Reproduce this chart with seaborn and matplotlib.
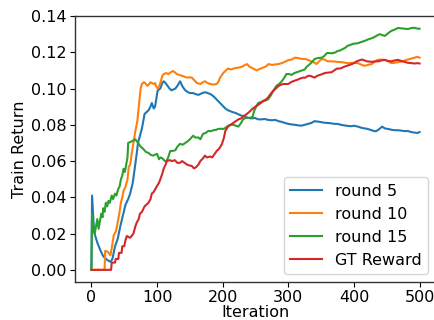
#!/usr/bin/env python3
import numpy as np
import pandas as pd
import seaborn as sns
import matplotlib.pyplot as plt

# values (iteration, train return)
blue_iter = [0, 1, 4, 9, 14, 18, 24, 29, 32, 36, 40, 44, 48, 52, 56, 59, 63, 66, 69, 71,
             74, 77, 81, 84, 87, 90, 92, 95, 97, 101, 105, 108, 110, 113, 115, 119, 122,
             125, 128, 132, 135, 139, 143, 147, 150, 155, 158, 163, 166, 169, 173, 177,
             181, 185, 188, 192, 196, 200, 204, 208, 211, 215, 219, 224, 229, 234, 239,
             244, 249, 254, 259, 264, 269, 275, 280, 285, 290, 295, 300, 305, 310, 315,
             320, 325, 330, 335, 340, 344, 348, 354, 360, 366, 370, 375, 380, 385, 390,
             396, 400, 406, 410, 416, 420, 427, 431, 434, 438, 443, 447, 452, 458, 462,
             467, 472, 477, 482, 487, 492, 497, 500]
blue_ret = [0.0, 0.041, 0.021, 0.015, 0.0105, 0.0075, 0.0055, 0.0044, 0.006, 0.013, 0.017,
            0.024, 0.030, 0.036, 0.039, 0.042, 0.048, 0.056, 0.064, 0.070, 0.074, 0.078,
            0.086, 0.087, 0.088, 0.090, 0.092, 0.089, 0.090, 0.099, 0.100, 0.103, 0.104,
            0.103, 0.102, 0.100, 0.099, 0.0995, 0.100, 0.102, 0.104, 0.101, 0.099, 0.098,
            0.0975, 0.0975, 0.097, 0.0965, 0.097, 0.0975, 0.098, 0.0975, 0.097, 0.096,
            0.095, 0.0935, 0.092, 0.0905, 0.089, 0.088, 0.0876, 0.087, 0.0866, 0.0858,
            0.085, 0.0845, 0.0838, 0.0835, 0.0838, 0.083, 0.083, 0.0832, 0.0827, 0.0825,
            0.0827, 0.082, 0.0816, 0.081, 0.0805, 0.0802, 0.080, 0.0797, 0.0795, 0.080,
            0.0805, 0.081, 0.082, 0.0818, 0.0816, 0.0812, 0.081, 0.0808, 0.0805, 0.0805,
            0.080, 0.0797, 0.0794, 0.0792, 0.0795, 0.079, 0.0785, 0.078, 0.0778, 0.077,
            0.0765, 0.0765, 0.0775, 0.079, 0.078, 0.0777, 0.0772, 0.077, 0.077, 0.0768,
            0.0765, 0.0766, 0.076, 0.0757, 0.0755, 0.076]

orange_iter = [0, 20, 21, 25, 29, 31, 34, 37, 39, 42, 45, 47, 49, 52, 55, 57, 59, 61, 64,
               67, 70, 73, 75, 77, 80, 82, 85, 87, 90, 92, 95, 97, 99, 101, 103, 105, 108,
               110, 114, 117, 121, 124, 127, 130, 134, 138, 142, 146, 150, 153, 157, 161,
               166, 170, 173, 177, 181, 186, 191, 194, 196, 201, 205, 208, 213, 219, 224,
               229, 233, 237, 241, 245, 249, 252, 256, 260, 265, 270, 275, 280, 285, 290,
               295, 300, 305, 310, 315, 321, 326, 330, 335, 340, 343, 347, 351, 355, 360,
               367, 375, 382, 390, 398, 406, 411, 416, 421, 427, 432, 436, 442, 447, 452,
               457, 462, 467, 473, 478, 482, 487, 492, 497, 500]
orange_ret = [0.0, 0.0, 0.0105, 0.010, 0.008, 0.012, 0.019, 0.021, 0.024, 0.030, 0.037,
              0.040, 0.0435, 0.046, 0.050, 0.057, 0.058, 0.063, 0.070, 0.0766, 0.082,
              0.093, 0.100, 0.1025, 0.1035, 0.103, 0.1015, 0.102, 0.1035, 0.103, 0.1025,
              0.103, 0.101, 0.100, 0.101, 0.103, 0.107, 0.108, 0.1085, 0.108, 0.109,
              0.1097, 0.109, 0.108, 0.1075, 0.107, 0.1065, 0.106, 0.1062, 0.106, 0.1045,
              0.103, 0.1025, 0.1035, 0.104, 0.103, 0.1025, 0.1022, 0.1025, 0.104, 0.106,
              0.1086, 0.110, 0.111, 0.1105, 0.1113, 0.1115, 0.112, 0.1128, 0.1135, 0.112,
              0.1113, 0.1105, 0.110, 0.1108, 0.1113, 0.112, 0.1135, 0.113, 0.1133, 0.1135,
              0.114, 0.1148, 0.1157, 0.116, 0.117, 0.1168, 0.1163, 0.1163, 0.1158, 0.115,
              0.1142, 0.1135, 0.115, 0.1163, 0.116, 0.115, 0.115, 0.1147, 0.1145, 0.114,
              0.1142, 0.114, 0.1132, 0.1125, 0.113, 0.1135, 0.1148, 0.1158, 0.116, 0.1158,
              0.115, 0.114, 0.1142, 0.1145, 0.115, 0.1155, 0.116, 0.1165, 0.117, 0.1175,
              0.117]

green_iter = [0, 1, 3, 5, 7, 9, 11, 13, 15, 17, 18, 20, 22, 24, 26, 28, 31, 33, 36, 38,
              41, 43, 45, 47, 49, 51, 53, 55, 56, 59, 62, 65, 67, 70, 72, 75, 79, 83, 87,
              90, 94, 97, 100, 103, 105, 108, 112, 114, 117, 120, 124, 128, 131, 135, 139,
              143, 147, 150, 155, 158, 163, 166, 170, 174, 178, 182, 186, 190, 193, 197,
              201, 205, 208, 212, 216, 220, 224, 228, 231, 235, 239, 243, 245, 248, 251,
              254, 258, 262, 266, 269, 273, 277, 282, 286, 290, 294, 297, 301, 305, 309,
              313, 317, 321, 325, 328, 333, 337, 340, 345, 351, 355, 359, 364, 368, 372,
              375, 379, 383, 387, 390, 394, 398, 402, 406, 410, 414, 418, 421, 425, 429,
              434, 439, 443, 447, 452, 457, 462, 467, 472, 477, 482, 488, 492, 497, 500]
green_ret = [0.0, 0.031, 0.024, 0.020, 0.024, 0.028, 0.0226, 0.027, 0.031, 0.029, 0.034,
             0.032, 0.037, 0.035, 0.038, 0.037, 0.041, 0.039, 0.042, 0.041, 0.0447, 0.046,
             0.050, 0.052, 0.0557, 0.054, 0.058, 0.062, 0.070, 0.0705, 0.071, 0.0715,
             0.072, 0.0705, 0.0695, 0.068, 0.0667, 0.065, 0.0645, 0.0635, 0.063, 0.0635,
             0.064, 0.061, 0.062, 0.0615, 0.060, 0.0598, 0.062, 0.0655, 0.0656, 0.066,
             0.068, 0.0695, 0.069, 0.070, 0.071, 0.072, 0.074, 0.073, 0.073, 0.072, 0.075,
             0.0755, 0.0766, 0.0765, 0.077, 0.0772, 0.0777, 0.0778, 0.0777, 0.0785, 0.0794,
             0.080, 0.080, 0.0795, 0.079, 0.081, 0.083, 0.0838, 0.0838, 0.084, 0.0838,
             0.0877, 0.090, 0.092, 0.0925, 0.093, 0.0935, 0.094, 0.096, 0.0987, 0.1015,
             0.1025, 0.104, 0.106, 0.108, 0.108, 0.1075, 0.1085, 0.109, 0.1095, 0.110,
             0.1105, 0.112, 0.1135, 0.115, 0.1163, 0.1168, 0.117, 0.118, 0.1196, 0.1195,
             0.1195, 0.120, 0.1207, 0.121, 0.1218, 0.1225, 0.1235, 0.124, 0.1246, 0.1248,
             0.125, 0.1255, 0.126, 0.1265, 0.127, 0.1275, 0.128, 0.129, 0.130, 0.1295,
             0.129, 0.1305, 0.1318, 0.1325, 0.1334, 0.1332, 0.133, 0.1328, 0.1334, 0.1335,
             0.133, 0.133]

red_iter = [0, 30, 31, 36, 37, 41, 42, 46, 47, 50, 52, 54, 57, 59, 62, 64, 67, 69, 72, 74,
            77, 81, 84, 87, 90, 92, 95, 98, 100, 103, 105, 108, 110, 113, 115, 119, 123,
            127, 131, 135, 138, 142, 146, 150, 153, 156, 159, 163, 166, 170, 173, 176, 181,
            184, 188, 191, 195, 199, 202, 204, 208, 212, 216, 220, 224, 228, 231, 235, 239,
            243, 246, 250, 254, 258, 262, 266, 269, 273, 277, 281, 285, 288, 292, 296, 300,
            304, 307, 311, 315, 318, 322, 326, 330, 333, 337, 340, 344, 348, 352, 356, 361,
            366, 370, 374, 378, 381, 385, 389, 393, 397, 401, 404, 408, 412, 416, 420, 424,
            427, 432, 437, 442, 447, 452, 457, 462, 467, 472, 477, 482, 488, 492, 497, 500]
red_ret = [0.0, 0.0, 0.004, 0.004, 0.006, 0.006, 0.0094, 0.0094, 0.013, 0.013, 0.0165,
           0.0187, 0.018, 0.0177, 0.019, 0.020, 0.024, 0.026, 0.028, 0.031, 0.032, 0.035,
           0.036, 0.037, 0.039, 0.042, 0.043, 0.045, 0.0463, 0.048, 0.050, 0.053, 0.0557,
           0.058, 0.060, 0.0605, 0.060, 0.0605, 0.059, 0.059, 0.060, 0.059, 0.058, 0.0575,
           0.0573, 0.056, 0.0565, 0.058, 0.060, 0.0615, 0.063, 0.062, 0.0625, 0.062, 0.064,
           0.0656, 0.067, 0.0695, 0.073, 0.0766, 0.079, 0.080, 0.081, 0.082, 0.083, 0.0835,
           0.0845, 0.0855, 0.0866, 0.088, 0.089, 0.090, 0.091, 0.092, 0.0932, 0.094, 0.095,
           0.097, 0.0987, 0.100, 0.1014, 0.102, 0.1025, 0.1025, 0.1025, 0.1035, 0.104,
           0.1045, 0.105, 0.1055, 0.106, 0.106, 0.107, 0.107, 0.1065, 0.106, 0.107, 0.1075,
           0.108, 0.1086, 0.1088, 0.109, 0.110, 0.111, 0.111, 0.1113, 0.112, 0.1125, 0.113,
           0.1135, 0.1142, 0.115, 0.1155, 0.116, 0.1155, 0.115, 0.1148, 0.1147, 0.115,
           0.115, 0.1155, 0.1158, 0.1152, 0.115, 0.1155, 0.1158, 0.1152, 0.1147, 0.1142,
           0.114, 0.1138, 0.114, 0.1138]

labels = ["round 5", "round 10", "round 15", "GT Reward"]
colors = ["#1f77b4", "#ff7f0e", "#2ca02c", "#d62728"]


def build_frame():
    parts = []
    for name, xs, ys in zip(labels,
                            [blue_iter, orange_iter, green_iter, red_iter],
                            [blue_ret, orange_ret, green_ret, red_ret]):
        parts.append(pd.DataFrame({"Iteration": xs, "Train Return": ys, "run": name}))
    return pd.concat(parts, ignore_index=True)


def main():
    data = build_frame()
    fs = 11.5

    fig = plt.figure(figsize=(4.34, 3.2), dpi=100)
    ax = fig.add_axes([75 / 434, 1 - 282 / 320, 361 / 434, 266 / 320])
    sns.lineplot(
        data=data,
        x="Iteration",
        y="Train Return",
        hue="run",
        hue_order=labels,
        palette=colors,
        estimator=None,
        sort=False,
        linewidth=1.5,
        ax=ax,
    )
    ax.set_xlim(-25, 525)
    ax.set_ylim(-0.0067, 0.1400)
    ax.set_xticks([0, 100, 200, 300, 400, 500])
    ax.set_yticks(np.arange(0, 0.141, 0.02))
    ax.yaxis.set_major_formatter(plt.FormatStrFormatter("%.2f"))
    ax.tick_params(labelsize=fs, pad=2.5)
    for side in ["top", "right", "left", "bottom"]:
        ax.spines[side].set_visible(True)
        ax.spines[side].set_color("#333333")
        ax.spines[side].set_linewidth(1.0)
    ax.set_xlabel("Iteration", fontsize=fs, labelpad=0)
    ax.set_ylabel("Train Return", fontsize=fs, labelpad=3)
    sns.move_legend(ax, "lower right", title=None, fontsize=fs)

    fig.savefig("out.png", dpi=100)


if __name__ == "__main__":
    main()
